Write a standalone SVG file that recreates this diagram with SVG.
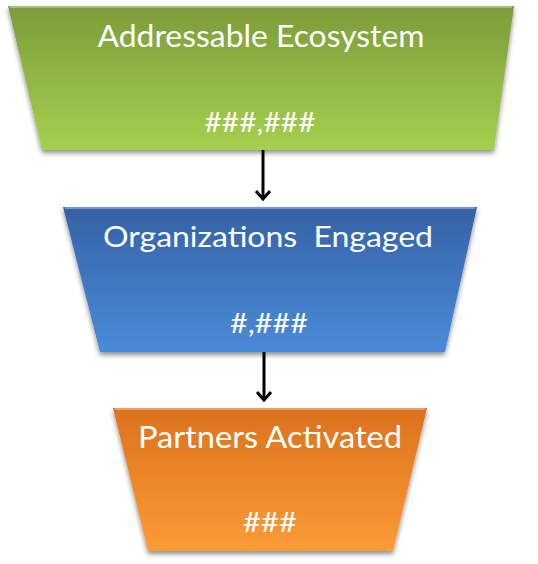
<svg xmlns="http://www.w3.org/2000/svg" width="538" height="564" viewBox="0 0 538 564">
  <defs>
    <linearGradient id="gGreen" x1="0" y1="0" x2="0" y2="1">
      <stop offset="0" stop-color="#7c9c3a"/>
      <stop offset="1" stop-color="#a5d04f"/>
    </linearGradient>
    <linearGradient id="gBlue" x1="0" y1="0" x2="0" y2="1">
      <stop offset="0" stop-color="#3562a5"/>
      <stop offset="1" stop-color="#4a8bd8"/>
    </linearGradient>
    <linearGradient id="gOrange" x1="0" y1="0" x2="0" y2="1">
      <stop offset="0" stop-color="#db721d"/>
      <stop offset="1" stop-color="#fb9b36"/>
    </linearGradient>
    <filter id="shadow" x="-10%" y="-10%" width="120%" height="130%">
      <feGaussianBlur in="SourceAlpha" stdDeviation="2.5"/>
      <feOffset dx="0" dy="3" result="b"/>
      <feComponentTransfer><feFuncA type="linear" slope="0.45"/></feComponentTransfer>
      <feMerge><feMergeNode/><feMergeNode in="SourceGraphic"/></feMerge>
    </filter>
    <marker id="arrow" viewBox="0 0 12 16" refX="10" refY="8" markerWidth="12" markerHeight="16" markerUnits="userSpaceOnUse" orient="auto">
      <path d="M2,1 L10,8 L2,15" fill="none" stroke="#000" stroke-width="3" stroke-linejoin="miter"/>
    </marker>
  </defs>
  <style>
    .lbl { font-family: "Lato", "Open Sans", "Liberation Sans", sans-serif; fill: #ffffff; text-anchor: middle; }
    .edge { fill: none; stroke: rgba(255,255,255,0.45); stroke-width: 1.5; }
    .conn { stroke: #000; stroke-width: 3; fill: none; }
  </style>

  <g id="connectors">
    <line class="conn" x1="263" y1="150" x2="263" y2="199" marker-end="url(#arrow)"/>
    <line class="conn" x1="264" y1="352" x2="264" y2="400" marker-end="url(#arrow)"/>
  </g>

  <g id="node-addressable">
    <polygon points="8,6 514,6 494,150 42,150" fill="url(#gGreen)" filter="url(#shadow)"/>
    <polyline class="edge" points="10,7 512,7"/>
    <text class="lbl" x="261" y="47" font-size="30" textLength="327" lengthAdjust="spacingAndGlyphs">Addressable Ecosystem</text>
    <text class="lbl" x="260" y="132" font-size="27" textLength="111" lengthAdjust="spacingAndGlyphs">###,###</text>
  </g>

  <g id="node-organizations">
    <polygon points="63,207 477,207 445,352 100,352" fill="url(#gBlue)" filter="url(#shadow)"/>
    <polyline class="edge" points="65,208 475,208"/>
    <text class="lbl" x="268" y="247" font-size="29" textLength="330" lengthAdjust="spacingAndGlyphs" xml:space="preserve">Organizations  Engaged</text>
    <text class="lbl" x="269" y="333" font-size="27" textLength="78" lengthAdjust="spacingAndGlyphs">#,###</text>
  </g>

  <g id="node-partners">
    <polygon points="113,408 427,408 393,551 148,551" fill="url(#gOrange)" filter="url(#shadow)"/>
    <polyline class="edge" points="115,409 425,409"/>
    <text class="lbl" x="270" y="448" font-size="30" textLength="264" lengthAdjust="spacingAndGlyphs">Partners Activated</text>
    <text class="lbl" x="270" y="532" font-size="27" textLength="54" lengthAdjust="spacingAndGlyphs">###</text>
  </g>
</svg>
